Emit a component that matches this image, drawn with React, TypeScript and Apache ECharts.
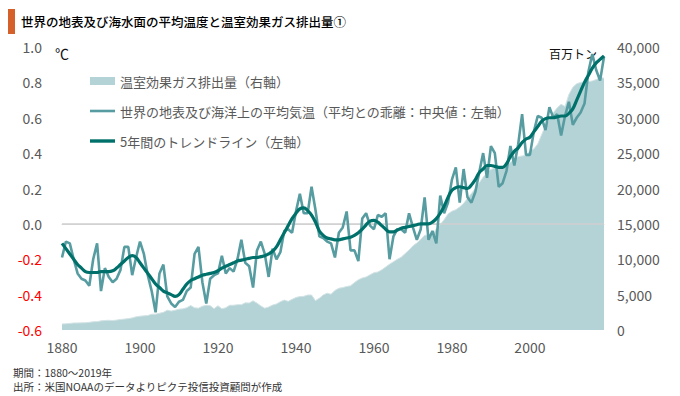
import React, { useEffect, useRef } from "react";
import * as echarts from "echarts";

const startYear = 1880;
const endYear = 2019;
const xTicks = [1880, 1900, 1920, 1940, 1960, 1980, 2000];

// 世界の地表及び海洋上の平均気温（平均との乖離, ℃）1880–2019
const tempAnomaly = [
  -0.19, -0.10, -0.11, -0.20, -0.28, -0.31, -0.32, -0.35, -0.20, -0.11,
  -0.38, -0.25, -0.30, -0.33, -0.31, -0.26, -0.13, -0.13, -0.29, -0.19,
  -0.10, -0.17, -0.29, -0.38, -0.50, -0.28, -0.23, -0.41, -0.45, -0.47,
  -0.44, -0.43, -0.38, -0.36, -0.17, -0.13, -0.33, -0.45, -0.31, -0.29,
  -0.28, -0.18, -0.28, -0.25, -0.27, -0.20, -0.09, -0.22, -0.24, -0.36,
  -0.15, -0.10, -0.17, -0.30, -0.14, -0.20, -0.16, -0.04, -0.03, -0.05,
  0.07, 0.17, 0.06, 0.06, 0.21, 0.08, -0.07, -0.08, -0.10, -0.11,
  -0.19, -0.05, -0.02, 0.07, -0.15, -0.15, -0.21, 0.03, 0.06, -0.01,
  -0.03, 0.05, 0.04, 0.06, -0.20, -0.07, -0.03, -0.03, -0.05, 0.06,
  -0.02, -0.09, -0.03, 0.15, -0.09, -0.04, -0.11, 0.16, 0.06, 0.12,
  0.25, 0.32, 0.12, 0.31, 0.15, 0.12, 0.18, 0.29, 0.40, 0.26,
  0.44, 0.40, 0.21, 0.23, 0.30, 0.44, 0.33, 0.45, 0.62, 0.39,
  0.39, 0.52, 0.61, 0.60, 0.53, 0.66, 0.60, 0.62, 0.50, 0.61,
  0.69, 0.56, 0.60, 0.63, 0.68, 0.86, 0.96, 0.87, 0.81, 0.945,
];

// 5年間のトレンドライン（℃）
const trend5y = [
  -0.11, -0.14, -0.17, -0.20, -0.23, -0.25, -0.27, -0.275, -0.275, -0.275,
  -0.27, -0.27, -0.27, -0.265, -0.25, -0.23, -0.21, -0.19, -0.18, -0.19,
  -0.22, -0.25, -0.28, -0.31, -0.34, -0.36, -0.38, -0.39, -0.40, -0.41,
  -0.40, -0.37, -0.34, -0.32, -0.31, -0.30, -0.29, -0.285, -0.28, -0.275,
  -0.265, -0.25, -0.24, -0.23, -0.22, -0.21, -0.205, -0.20, -0.195, -0.19,
  -0.19, -0.185, -0.18, -0.17, -0.155, -0.13, -0.09, -0.05, -0.01, 0.03,
  0.06, 0.085, 0.09, 0.075, 0.05, 0.01, -0.04, -0.065, -0.08, -0.085,
  -0.09, -0.09, -0.085, -0.08, -0.075, -0.065, -0.05, -0.03, -0.005, 0.015,
  0.02, 0.01, -0.01, -0.03, -0.045, -0.045, -0.035, -0.025, -0.02, -0.015,
  -0.01, -0.005, 0.0, 0.0, 0.0, 0.01, 0.03, 0.06, 0.10, 0.15,
  0.19, 0.205, 0.21, 0.205, 0.20, 0.22, 0.25, 0.29, 0.31, 0.33,
  0.33, 0.325, 0.32, 0.32, 0.34, 0.38, 0.41, 0.43, 0.46, 0.48,
  0.49, 0.52, 0.55, 0.58, 0.595, 0.60, 0.60, 0.605, 0.61, 0.61,
  0.625, 0.65, 0.70, 0.75, 0.80, 0.84, 0.88, 0.91, 0.93, 0.95,
];

// 温室効果ガス排出量（百万トン）
const emissions = [
  850, 880, 930, 990, 1000, 1010, 1030, 1080, 1170, 1180,
  1290, 1350, 1370, 1340, 1400, 1490, 1540, 1610, 1710, 1860,
  1950, 2000, 2050, 2230, 2240, 2370, 2500, 2800, 2680, 2800,
  2940, 2990, 3150, 3460, 3140, 3090, 3360, 3500, 3440, 3010,
  3430, 2990, 3150, 3500, 3500, 3580, 3580, 3840, 3820, 4120,
  3800, 3400, 3080, 3250, 3520, 3680, 4000, 4230, 4050, 4330,
  4600, 4720, 4760, 4950, 4950, 4150, 4500, 4950, 5200, 5050,
  5600, 5900, 6000, 6150, 6250, 6700, 7100, 7350, 7500, 7800,
  8100, 8200, 8500, 8900, 9300, 9650, 10000, 10300, 10800, 11300,
  11900, 12300, 12800, 13400, 13400, 13500, 14300, 14900, 15600, 16400,
  16800, 17000, 17400, 17900, 18600, 19300, 20000, 20800, 21600, 22200,
  22700, 22900, 23000, 23100, 23300, 23700, 24200, 24500, 24600, 24700,
  25300, 25600, 26300, 27600, 28900, 29800, 30700, 31400, 31900, 31600,
  33300, 34300, 34800, 35000, 35100, 35100, 35200, 35400, 35700, 35600,
];

const leftTicks = [-0.6, -0.4, -0.2, 0.0, 0.2, 0.4, 0.6, 0.8, 1.0];

const seriesNames = [
  "温室効果ガス排出量（右軸）",
  "世界の地表及び海洋上の平均気温（平均との乖離：中央値：左軸）",
  "5年間のトレンドライン（左軸）",
];

const FONT = "'Noto Sans CJK JP', 'Noto Sans', sans-serif";
const AREA = "#b4d3d6";
const RAW = "#569ca0";
const TREND = "#00706b";

export default function App() {
  const ref = useRef<HTMLDivElement>(null);

  useEffect(() => {
    if (!ref.current) return;
    const chart = echarts.init(ref.current, undefined, { renderer: "svg" });
    const pair = (arr: number[]) => arr.map((v, i) => [startYear + i, v]);

    chart.setOption({
      animation: false,
      textStyle: { fontFamily: FONT },
      grid: { left: 62, right: 76, top: 47, bottom: 66 },
      legend: {
        orient: "vertical",
        left: 90,
        top: 73,
        padding: 0,
        itemWidth: 25,
        itemHeight: 8,
        itemGap: 14,
        textStyle: { fontFamily: FONT, fontSize: 13, color: "#595959", lineHeight: 16 },
        data: [
          { name: seriesNames[0], icon: "path://M0,0H25V8H0Z" },
          { name: seriesNames[1], icon: "path://M0,0H25V2.6H0Z" },
          { name: seriesNames[2], icon: "path://M0,0H25V3.4H0Z" },
        ],
      },
      xAxis: {
        type: "value",
        min: startYear,
        max: endYear,
        interval: 20,
        axisLine: { show: true, lineStyle: { color: "#d9d9d9", width: 1 } },
        axisTick: { show: false },
        splitLine: { show: false },
        axisLabel: {
          showMaxLabel: false,
          margin: 10,
          fontSize: 14,
          color: "#595959",
          fontFamily: FONT,
          formatter: (v: number) => (xTicks.includes(v) ? String(v) : ""),
        },
      },
      yAxis: [
        {
          type: "value",
          min: -0.6,
          max: 1.0,
          interval: 0.2,
          axisLine: { show: false },
          axisTick: { show: false },
          splitLine: { show: false },
          axisLabel: {
            margin: 20,
            fontSize: 14,
            fontFamily: FONT,
            color: "#595959",
            formatter: (v: number) => {
              const t = leftTicks.find((k) => Math.abs(k - v) < 1e-6);
              if (t === undefined) return "";
              return t < 0 ? `{neg|${t.toFixed(1)}}` : `{pos|${t.toFixed(1)}}`;
            },
            rich: {
              neg: { color: "#ff0000", fontSize: 14, fontFamily: FONT },
              pos: { color: "#595959", fontSize: 14, fontFamily: FONT },
            },
          },
        },
        {
          type: "value",
          min: 0,
          max: 40000,
          interval: 5000,
          position: "right",
          axisLine: { show: false },
          axisTick: { show: false },
          splitLine: { show: false },
          axisLabel: {
            margin: 13,
            fontSize: 14,
            color: "#595959",
            fontFamily: FONT,
            formatter: (v: number) => v.toLocaleString("en-US"),
          },
        },
      ],
      series: [
        {
          name: seriesNames[0],
          type: "line",
          yAxisIndex: 1,
          data: pair(emissions),
          showSymbol: false,
          symbol: "none",
          lineStyle: { width: 1, color: "#d4e3e5" },
          itemStyle: { color: AREA },
          areaStyle: { color: AREA, opacity: 1 },
          z: 1,
        },
        {
          name: seriesNames[1],
          type: "line",
          yAxisIndex: 0,
          data: pair(tempAnomaly),
          showSymbol: false,
          symbol: "none",
          lineStyle: { width: 2.6, color: RAW },
          itemStyle: { color: RAW },
          z: 3,
          markLine: {
            silent: true,
            symbol: "none",
            label: { show: false },
            lineStyle: { color: "#cfcfcf", width: 1.5, type: "solid" },
            data: [{ yAxis: 0 }],
            z: 2,
          },
        },
        {
          name: seriesNames[2],
          type: "line",
          yAxisIndex: 0,
          data: pair(trend5y),
          showSymbol: false,
          symbol: "none",
          smooth: 0.4,
          lineStyle: { width: 3.2, color: TREND },
          itemStyle: { color: TREND },
          z: 4,
        },
      ],
      graphic: [
        { type: "rect", left: 8, top: 9, shape: { width: 7, height: 25 }, style: { fill: "#d6602a" } },
        {
          type: "text",
          x: 21,
          y: 21,
          style: {
            text: "世界の地表及び海水面の平均温度と温室効果ガス排出量①",
            font: `500 12.5px ${FONT}`,
            fill: "#000",
            verticalAlign: "middle",
          },
        },
        { type: "text", x: 55, y: 53, style: { text: "℃", font: `14px ${FONT}`, fill: "#111", verticalAlign: "middle" } },
        { type: "text", x: 549, y: 53, style: { text: "百万トン", font: `12px ${FONT}`, fill: "#111", verticalAlign: "middle" } },
        {
          type: "text",
          x: 13,
          y: 372,
          style: { text: "期間：1880～2019年", font: `10.5px ${FONT}`, fill: "#333", verticalAlign: "middle", lineHeight: 12 },
        },
        {
          type: "text",
          x: 13,
          y: 386,
          style: {
            text: "出所：米国NOAAのデータよりピクテ投信投資顧問が作成",
            font: `10.5px ${FONT}`,
            fill: "#333",
            verticalAlign: "middle",
            lineHeight: 12,
          },
        },
      ],
    });
    return () => chart.dispose();
  }, []);

  return <div ref={ref} style={{ width: 680, height: 396, position: "absolute", left: 0, top: 0 }} />;
}
